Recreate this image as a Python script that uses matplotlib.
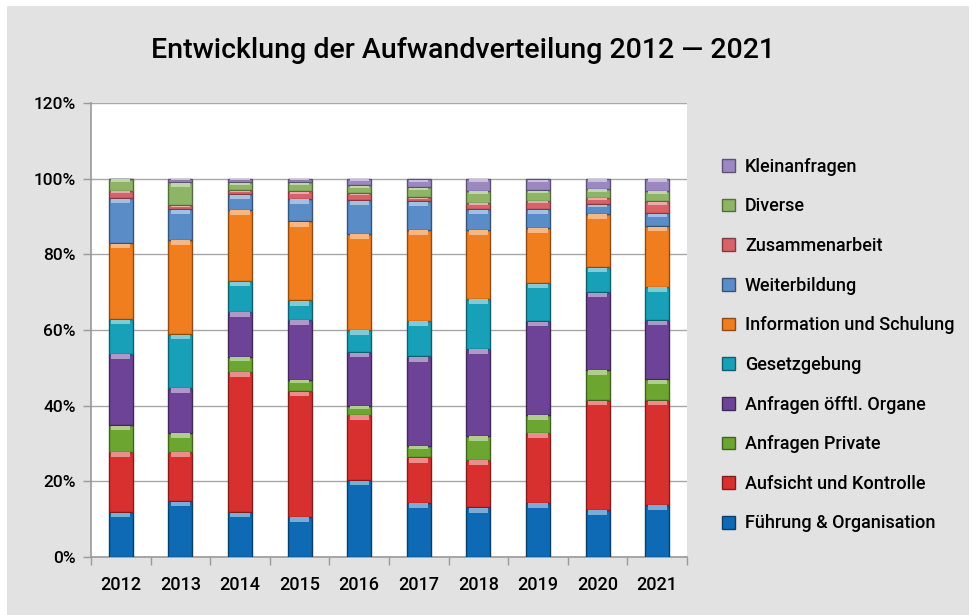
import matplotlib.pyplot as plt
import matplotlib.patches as mpatches
import numpy as np
from matplotlib.colors import to_rgb

plt.rcParams["font.family"] = ["Roboto", "DejaVu Sans"]

years = ["2012", "2013", "2014", "2015", "2016", "2017", "2018", "2019", "2020", "2021"]

# shares in percent, bottom to top
fuehrung = [11.8, 14.7, 11.8, 10.6, 20.3, 14.4, 13.1, 14.4, 12.5, 13.8]
aufsicht = [16.0, 13.1, 37.2, 33.2, 17.3, 11.9, 12.6, 18.4, 28.9, 27.6]
anfr_private = [7.0, 5.0, 3.9, 3.1, 2.4, 3.1, 6.4, 4.8, 8.1, 5.6]
anfr_organe = [18.9, 11.9, 11.9, 15.8, 14.1, 23.6, 23.0, 24.7, 20.5, 15.6]
gesetzgebung = [9.2, 14.2, 8.1, 5.1, 6.0, 9.5, 13.2, 10.1, 6.6, 8.8]
information = [20.1, 25.0, 18.9, 20.9, 25.4, 24.0, 18.2, 14.6, 14.1, 16.0]
weiterbildung = [11.9, 8.1, 4.1, 6.0, 8.8, 7.5, 5.5, 5.0, 2.5, 3.5]
zusammenarbeit = [1.9, 1.0, 1.0, 2.0, 1.9, 1.1, 1.6, 2.2, 1.8, 3.1]
diverse = [3.2, 6.1, 2.1, 2.3, 2.0, 2.6, 3.2, 2.8, 2.3, 2.8]
kleinanfragen = [0.0, 0.9, 1.0, 1.0, 1.8, 2.2, 3.2, 2.9, 2.7, 3.2]

series = [
    ("Führung & Organisation", fuehrung, "#0e6ab4"),
    ("Aufsicht und Kontrolle", aufsicht, "#d8302e"),
    ("Anfragen Private", anfr_private, "#6ca530"),
    ("Anfragen öfftl. Organe", anfr_organe, "#6c4396"),
    ("Gesetzgebung", gesetzgebung, "#17a0b7"),
    ("Information und Schulung", information, "#f07d1e"),
    ("Weiterbildung", weiterbildung, "#5a8cc7"),
    ("Zusammenarbeit", zusammenarbeit, "#d8626a"),
    ("Diverse", diverse, "#8db565"),
    ("Kleinanfragen", kleinanfragen, "#9b87c2"),
]


def shade(c, f):
    r = np.array(to_rgb(c))
    if f < 1:
        return tuple(r * f)
    return tuple(r + (1 - r) * (f - 1))


fig = plt.figure(figsize=(9.76, 6.15), dpi=100, facecolor="white")
fig.patches.append(mpatches.Rectangle((7 / 976, 0), 962 / 976, 609 / 615,
                                      transform=fig.transFigure,
                                      fc="#e2e2e2", ec="none", zorder=-10))

ax = fig.add_axes([91 / 976, 58 / 615, 596 / 976, 454 / 615])
ax.set_facecolor("white")

x = np.arange(len(years))
width = 0.4
bottom = np.zeros(len(years))
handles = []
for name, vals, col in series:
    vals = np.array(vals)
    ax.bar(x, vals, width, bottom=bottom, color=col,
           edgecolor=shade(col, 0.6), linewidth=1.0, zorder=3)
    # glossy bevel: lighter strip at the top of each segment
    hl = np.minimum(vals * 0.25, 1.2)
    ax.bar(x, hl, width * 0.8, bottom=bottom + vals - hl - 0.15,
           color=shade(col, 1.45), linewidth=0, zorder=4)
    bottom += vals
    handles.append(mpatches.Patch(fc=col, ec=shade(col, 0.6), lw=1.0, label=name))

ax.set_xlim(-0.5, len(years) - 0.5)
ax.set_ylim(0, 120)
ax.set_yticks(np.arange(0, 121, 20))
ax.set_yticklabels([f"{v}%" for v in range(0, 121, 20)], fontsize=12.5,
                   fontweight="medium")
ax.set_xticks(x)
ax.set_xticklabels(years, fontsize=13, fontweight="medium")
ax.set_xticks(np.arange(-0.5, len(years), 1), minor=True)
ax.tick_params(axis="x", which="major", length=0, pad=14)
ax.tick_params(axis="x", which="minor", length=6, color="#9a9a9a", width=1)
ax.tick_params(axis="y", length=6, color="#9a9a9a", width=1, pad=5)
ax.grid(axis="y", color="#a8a8a8", lw=1.0, zorder=1)
for s in ["top", "right"]:
    ax.spines[s].set_visible(False)
for s in ["left", "bottom"]:
    ax.spines[s].set_color("#9a9a9a")
    ax.spines[s].set_linewidth(1.2)

fig.text(463 / 976, 1 - 50 / 615, "Entwicklung der Aufwandverteilung 2012 — 2021",
         ha="center", va="center", fontsize=20.5, fontweight="medium")

fig.legend(handles=handles[::-1], loc="center left",
           bbox_to_anchor=(706 / 976, 1 - 345 / 615), frameon=False,
           prop={"size": 13, "weight": "medium"},
           handlelength=0.7, handleheight=0.7,
           handletextpad=0.55, labelspacing=1.2)

fig.savefig("out.png", dpi=100, facecolor=fig.get_facecolor())
